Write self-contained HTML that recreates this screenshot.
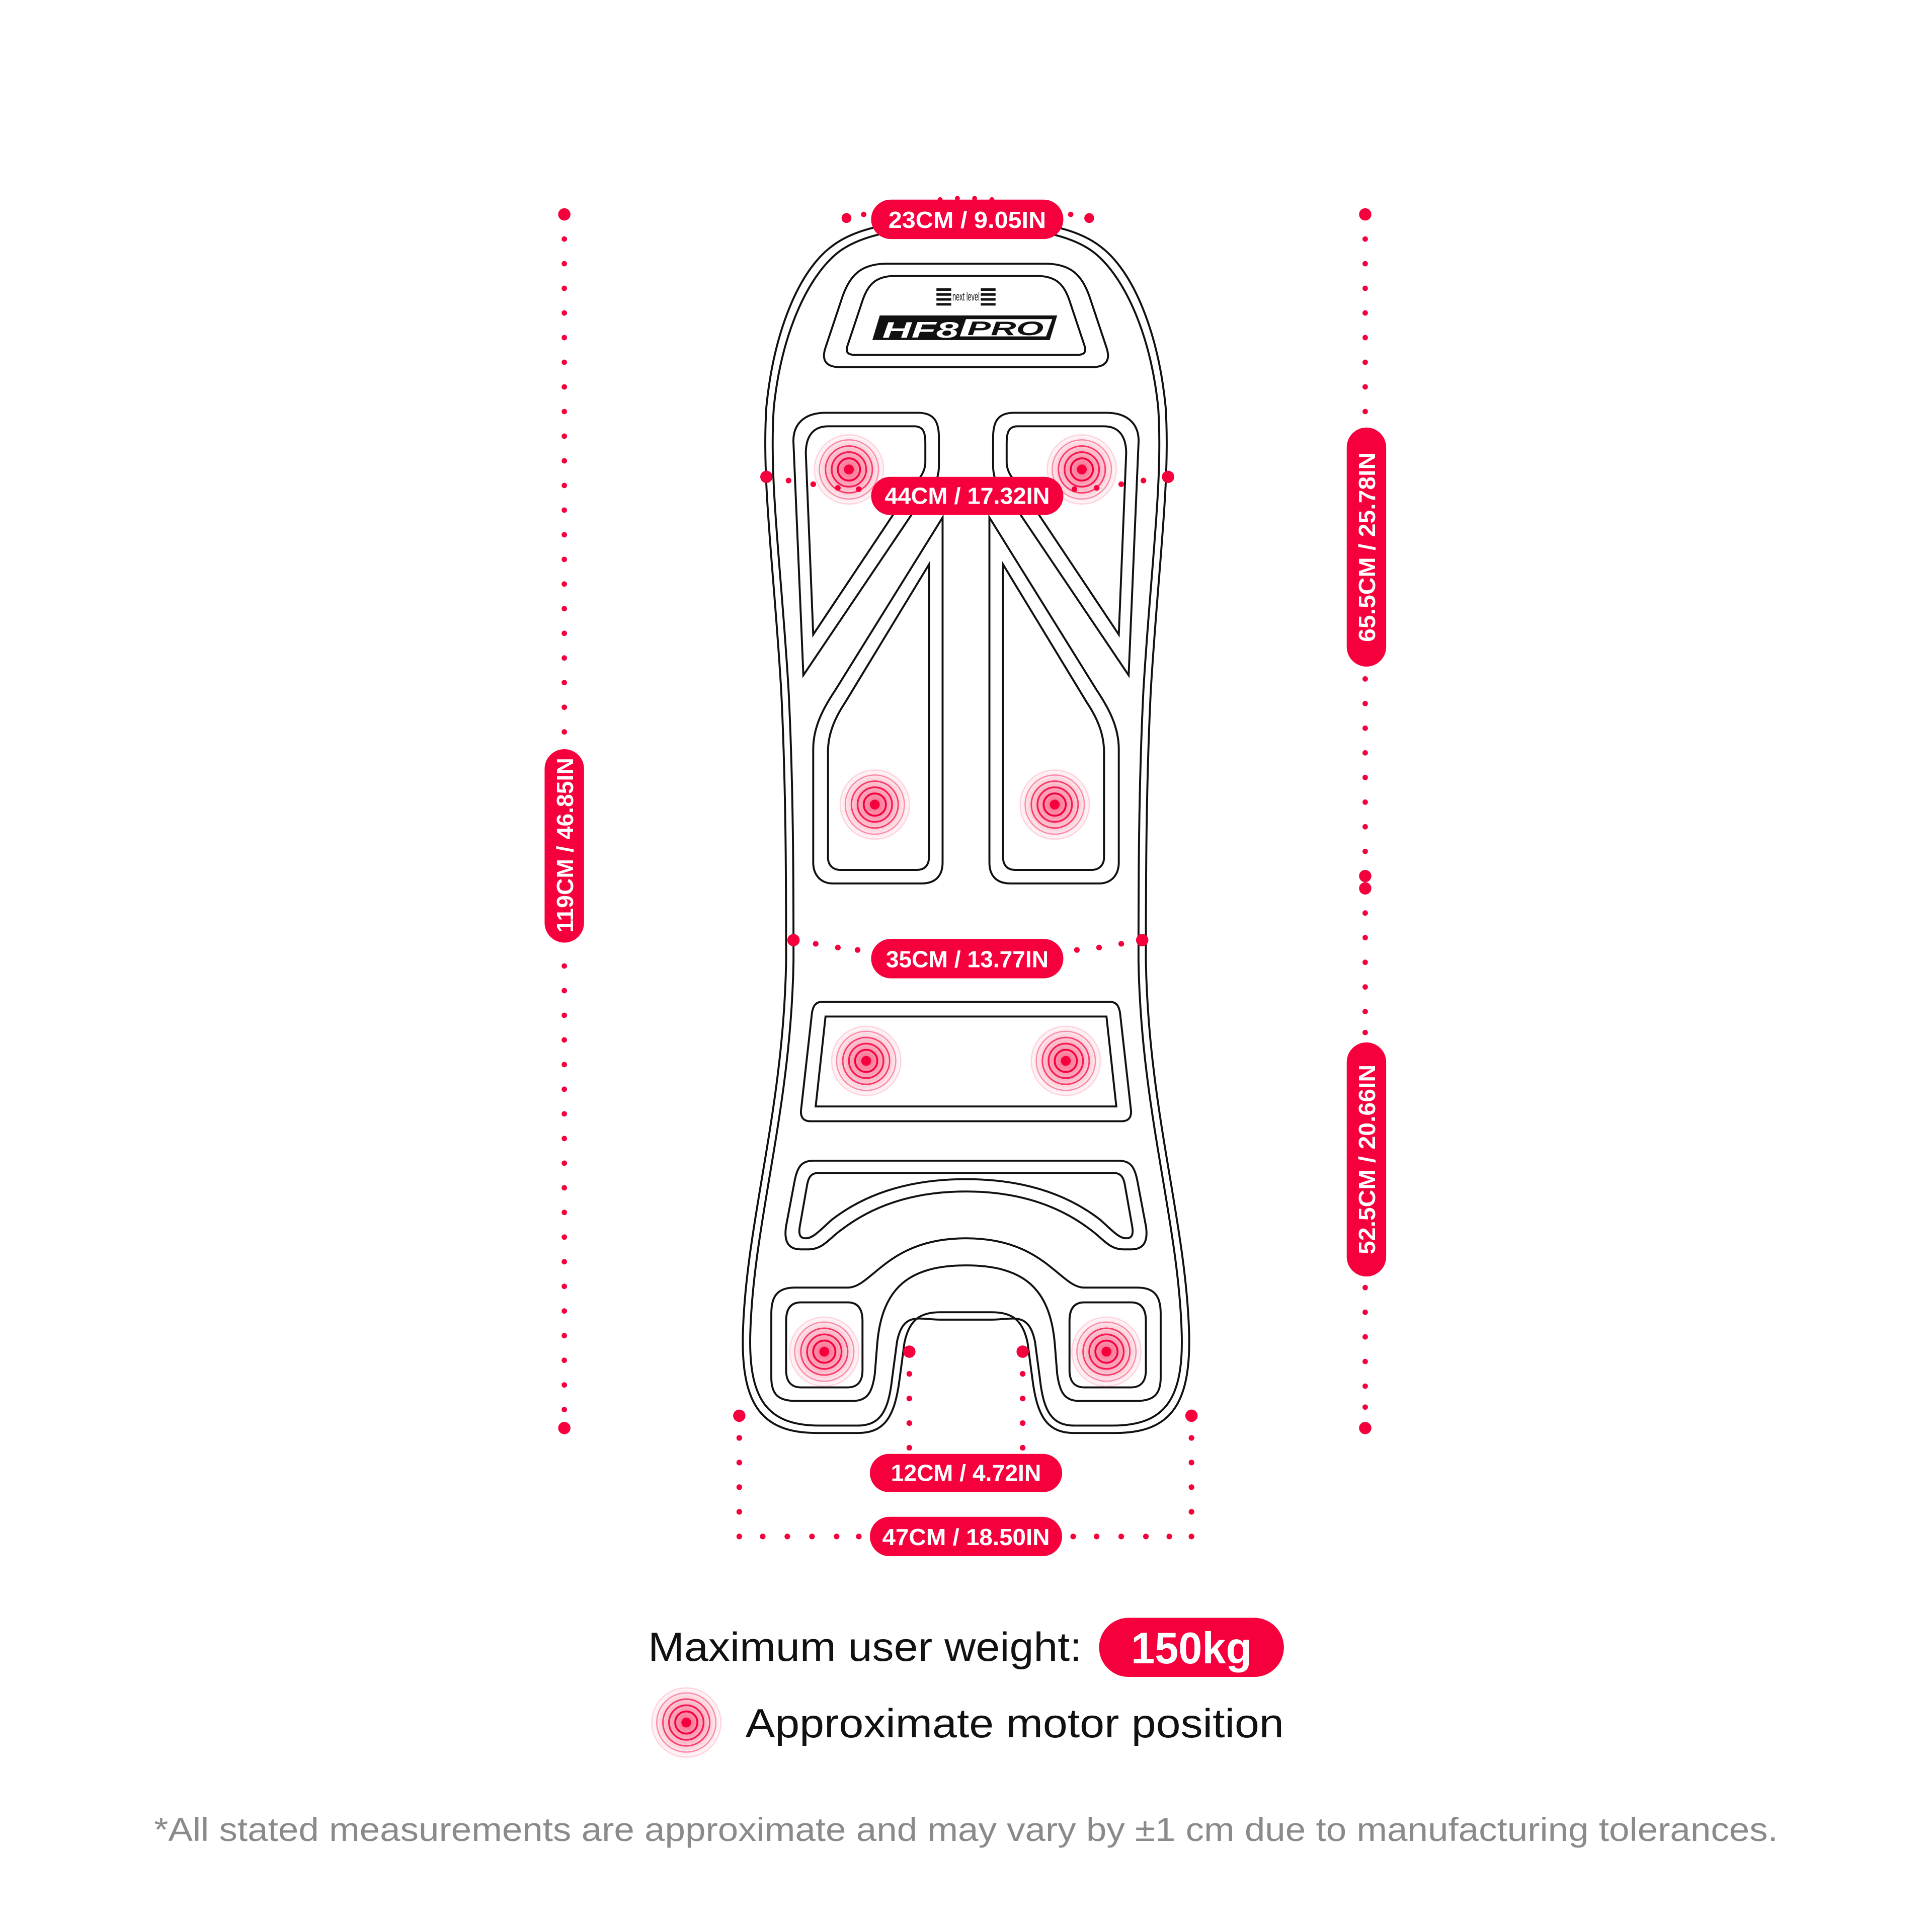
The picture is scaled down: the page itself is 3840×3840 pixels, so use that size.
<!DOCTYPE html>
<html><head><meta charset="utf-8"><style>
html,body{margin:0;padding:0;background:#fff}
svg{display:block}
</style></head><body>
<svg width="3840" height="3840" viewBox="0 0 1568 1568" xmlns="http://www.w3.org/2000/svg">
<defs>
<radialGradient id="mg">
<stop offset="0" stop-color="#f5003c" stop-opacity="1"/>
<stop offset="0.45" stop-color="#f5003c" stop-opacity="0.55"/>
<stop offset="0.8" stop-color="#f5003c" stop-opacity="0.15"/>
<stop offset="1" stop-color="#f5003c" stop-opacity="0"/>
</radialGradient>
<g id="motor">
<circle r="30" fill="url(#mg)" opacity="0.6"/>
<circle r="28" fill="none" stroke="#f5003c" stroke-opacity="0.15" stroke-width="1"/>
<circle r="24" fill="none" stroke="#f5003c" stroke-opacity="0.4" stroke-width="1"/>
<circle r="19" fill="none" stroke="#f5003c" stroke-opacity="0.7" stroke-width="1.2"/>
<circle r="14" fill="none" stroke="#f5003c" stroke-opacity="0.85" stroke-width="1.4"/>
<circle r="9" fill="none" stroke="#f5003c" stroke-width="1.5"/>
<circle r="4" fill="#f5003c"/>
</g>
</defs>
<g fill="none" stroke="#111" stroke-width="1.6">
<!-- body outer -->
<path d="M784 178 C830 178 870 182 893 200 C920 220 940 270 946 330 C950 390 940 460 934 560 C930 640 930 720 930 780 C932 900 962 990 965 1080 C967 1140 950 1163 905 1163 L872 1163 C850 1163 842 1150 838 1120 L834 1090 C830 1070 820 1065 805 1065 L763 1065 C748 1065 738 1070 734 1090 L730 1120 C726 1150 718 1163 696 1163 L663 1163 C618 1163 601 1140 603 1080 C606 990 636 900 638 780 C638 720 638 640 634 560 C628 460 618 390 622 330 C628 270 648 220 675 200 C698 182 738 178 784 178 Z"/>
<path d="M784 184 C828 184 866 188 888 205 C913 225 934 272 940 331 C944 390 934 460 928 560 C924 640 924 720 924 780 C926 900 956 990 959 1080 C961 1135 946 1157 903 1157 L872 1157 C854 1157 847 1146 844 1119 L840 1089 C835 1064 822 1071 805 1071 L763 1071 C746 1071 733 1064 728 1089 L724 1119 C721 1146 714 1157 696 1157 L665 1157 C622 1157 607 1135 609 1080 C612 990 642 900 644 780 C644 720 644 640 640 560 C634 460 624 390 628 331 C634 272 655 225 680 205 C702 188 740 184 784 184 Z"/>
<!-- logo panel -->
<path d="M720 214 L848 214 C870 214 878 224 884 240 L898 282 C902 294 896 298 886 298 L682 298 C672 298 666 294 670 282 L684 240 C690 224 698 214 720 214 Z"/>
<path d="M726 224 L842 224 C858 224 864 232 868 244 L880 280 C882 286 880 288 874 288 L694 288 C688 288 686 286 688 280 L700 244 C704 232 710 224 726 224 Z"/>
<!-- top pockets left -->
<path d="M670 335 L745 335 C758 335 762 342 762 355 L762 378 C762 392 755 400 745 410 L652 548 L644 360 C643 345 652 335 670 335 Z"/>
<path d="M672 346 L742 346 C750 346 751 352 751 360 L751 375 C751 384 745 390 738 398 L660 515 L654 368 C654 354 660 346 672 346 Z"/>
<!-- top pockets right -->
<path d="M898 335 L823 335 C810 335 806 342 806 355 L806 378 C806 392 813 400 823 410 L916 548 L924 360 C925 345 916 335 898 335 Z"/>
<path d="M896 346 L826 346 C818 346 817 352 817 360 L817 375 C817 384 823 390 830 398 L908 515 L914 368 C914 354 908 346 896 346 Z"/>
<!-- mid pockets -->
<path d="M765 420 L765 700 C765 712 758 717 748 717 L676 717 C666 717 660 710 660 700 L660 608 C660 590 668 575 678 560 Z"/>
<path d="M754 458 L754 695 C754 703 750 706 744 706 L682 706 C676 706 672 702 672 696 L672 610 C672 595 678 582 686 570 Z"/>
<path d="M803 420 L803 700 C803 712 810 717 820 717 L892 717 C902 717 908 710 908 700 L908 608 C908 590 900 575 890 560 Z"/>
<path d="M814 458 L814 695 C814 703 818 706 824 706 L886 706 C892 706 896 702 896 696 L896 610 C896 595 890 582 882 570 Z"/>
<!-- middle trapezoid -->
<path d="M668 813 L900 813 C906 813 908 816 909 822 L918 902 C918 908 915 910 910 910 L658 910 C653 910 650 908 650 902 L659 822 C660 816 662 813 668 813 Z"/>
<path d="M670 825 L898 825 L906 898 L662 898 Z"/>
<!-- arch pocket -->
<path d="M660 942 L908 942 C918 942 921 948 923 958 L930 995 C932 1008 928 1014 918 1014 L912 1014 C900 1014 895 1005 885 998 C855 975 820 967 784 967 C748 967 713 975 683 998 C673 1005 668 1014 656 1014 L650 1014 C640 1014 636 1008 638 995 L645 958 C647 948 650 942 660 942 Z"/>
<path d="M664 952 L904 952 C910 952 912 956 913 962 L919 996 C920 1003 918 1005 914 1005 C908 1005 902 998 893 990 C862 966 824 957 784 957 C744 957 706 966 675 990 C666 998 660 1005 654 1005 C650 1005 648 1003 649 996 L655 962 C656 956 658 952 664 952 Z"/>
<!-- U loop -->
<path d="M645 1045 L688 1045 C708 1045 720 1005 784 1005 C848 1005 860 1045 880 1045 L923 1045 C937 1045 942 1052 942 1066 L942 1118 C942 1132 936 1137 922 1137 L876 1137 C864 1137 860 1130 858 1115 L856 1090 C852 1045 830 1027 784 1027 C738 1027 716 1045 712 1090 L710 1115 C708 1130 704 1137 692 1137 L646 1137 C632 1137 626 1132 626 1118 L626 1066 C626 1052 631 1045 645 1045 Z"/>
<path d="M650 1057 L688 1057 C696 1057 700 1062 700 1072 L700 1112 C700 1121 696 1126 688 1126 L650 1126 C642 1126 638 1121 638 1112 L638 1072 C638 1062 642 1057 650 1057 Z"/>
<path d="M918 1057 L880 1057 C872 1057 868 1062 868 1072 L868 1112 C868 1121 872 1126 880 1126 L918 1126 C926 1126 930 1121 930 1112 L930 1072 C930 1062 926 1057 918 1057 Z"/>
</g>
<!-- logo -->
<g fill="#111">
<rect x="760" y="234" width="12" height="2"/><rect x="760" y="238" width="12" height="2"/><rect x="760" y="242" width="12" height="2"/><rect x="760" y="246" width="12" height="2"/>
<rect x="796" y="234" width="12" height="2"/><rect x="796" y="238" width="12" height="2"/><rect x="796" y="242" width="12" height="2"/><rect x="796" y="246" width="12" height="2"/>
<text x="784" y="244" font-family="Liberation Sans Narrow, Liberation Sans, sans-serif" font-size="10" text-anchor="middle" textLength="22" lengthAdjust="spacingAndGlyphs">next level</text>
<polygon points="714,256 858,256 852,276 708,276"/>
</g>
<text x="747" y="274" font-family="Liberation Sans, sans-serif" font-weight="bold" font-style="italic" font-size="18" fill="#fff" text-anchor="middle" textLength="62" lengthAdjust="spacingAndGlyphs">HF8</text>
<polygon points="784,259 854,259 849,273 779,273" fill="#fff"/>
<text x="816" y="272" font-family="Liberation Sans, sans-serif" font-weight="bold" font-style="italic" font-size="16" fill="#111" text-anchor="middle" textLength="62" lengthAdjust="spacingAndGlyphs">PRO</text>
<!-- motors -->
<use href="#motor" x="689" y="381"/><use href="#motor" x="878" y="381"/>
<use href="#motor" x="710" y="653"/><use href="#motor" x="856" y="653"/>
<use href="#motor" x="703" y="861"/><use href="#motor" x="865" y="861"/>
<use href="#motor" x="669" y="1097"/><use href="#motor" x="898" y="1097"/>
<use href="#motor" x="557" y="1398"/>
<!-- dimension dots -->
<g fill="#f5003c">
<!-- left vertical -->
<circle cx="458" cy="174" r="5"/><circle cx="458" cy="1159" r="5"/>
<g id="lv">
<circle cx="458" cy="194" r="2.2"/><circle cx="458" cy="214" r="2.2"/><circle cx="458" cy="234" r="2.2"/><circle cx="458" cy="254" r="2.2"/><circle cx="458" cy="274" r="2.2"/><circle cx="458" cy="294" r="2.2"/><circle cx="458" cy="314" r="2.2"/><circle cx="458" cy="334" r="2.2"/><circle cx="458" cy="354" r="2.2"/><circle cx="458" cy="374" r="2.2"/><circle cx="458" cy="394" r="2.2"/><circle cx="458" cy="414" r="2.2"/><circle cx="458" cy="434" r="2.2"/><circle cx="458" cy="454" r="2.2"/><circle cx="458" cy="474" r="2.2"/><circle cx="458" cy="494" r="2.2"/><circle cx="458" cy="514" r="2.2"/><circle cx="458" cy="534" r="2.2"/><circle cx="458" cy="554" r="2.2"/><circle cx="458" cy="574" r="2.2"/><circle cx="458" cy="594" r="2.2"/>
<circle cx="458" cy="784" r="2.2"/><circle cx="458" cy="804" r="2.2"/><circle cx="458" cy="824" r="2.2"/><circle cx="458" cy="844" r="2.2"/><circle cx="458" cy="864" r="2.2"/><circle cx="458" cy="884" r="2.2"/><circle cx="458" cy="904" r="2.2"/><circle cx="458" cy="924" r="2.2"/><circle cx="458" cy="944" r="2.2"/><circle cx="458" cy="964" r="2.2"/><circle cx="458" cy="984" r="2.2"/><circle cx="458" cy="1004" r="2.2"/><circle cx="458" cy="1024" r="2.2"/><circle cx="458" cy="1044" r="2.2"/><circle cx="458" cy="1064" r="2.2"/><circle cx="458" cy="1084" r="2.2"/><circle cx="458" cy="1104" r="2.2"/><circle cx="458" cy="1124" r="2.2"/><circle cx="458" cy="1144" r="2.2"/>
</g>
<!-- right vertical -->
<circle cx="1108" cy="174" r="5"/><circle cx="1108" cy="1159" r="5"/><circle cx="1108" cy="711" r="5"/><circle cx="1108" cy="721" r="5"/>
<circle cx="1108" cy="194" r="2.2"/><circle cx="1108" cy="214" r="2.2"/><circle cx="1108" cy="234" r="2.2"/><circle cx="1108" cy="254" r="2.2"/><circle cx="1108" cy="274" r="2.2"/><circle cx="1108" cy="294" r="2.2"/><circle cx="1108" cy="314" r="2.2"/><circle cx="1108" cy="334" r="2.2"/>
<circle cx="1108" cy="551" r="2.2"/><circle cx="1108" cy="571" r="2.2"/><circle cx="1108" cy="591" r="2.2"/><circle cx="1108" cy="611" r="2.2"/><circle cx="1108" cy="631" r="2.2"/><circle cx="1108" cy="651" r="2.2"/><circle cx="1108" cy="671" r="2.2"/><circle cx="1108" cy="691" r="2.2"/>
<circle cx="1108" cy="741" r="2.2"/><circle cx="1108" cy="761" r="2.2"/><circle cx="1108" cy="781" r="2.2"/><circle cx="1108" cy="801" r="2.2"/><circle cx="1108" cy="821" r="2.2"/><circle cx="1108" cy="838" r="2.2"/>
<circle cx="1108" cy="1045" r="2.2"/><circle cx="1108" cy="1065" r="2.2"/><circle cx="1108" cy="1085" r="2.2"/><circle cx="1108" cy="1105" r="2.2"/><circle cx="1108" cy="1125" r="2.2"/><circle cx="1108" cy="1142" r="2.2"/>
<!-- top -->
<circle cx="687" cy="177" r="4"/><circle cx="884" cy="177" r="4"/><circle cx="701" cy="174" r="2.2"/><circle cx="869" cy="174" r="2.2"/>
<circle cx="763" cy="162" r="2"/><circle cx="777" cy="161" r="2"/><circle cx="791" cy="161" r="2"/><circle cx="805" cy="162" r="2"/>
<!-- 44 -->
<circle cx="622" cy="387" r="5"/><circle cx="948" cy="387" r="5"/>
<circle cx="640" cy="390" r="2.3"/><circle cx="660" cy="393" r="2.3"/><circle cx="680" cy="396" r="2.3"/><circle cx="697" cy="397" r="2.3"/>
<circle cx="928" cy="390" r="2.3"/><circle cx="910" cy="393" r="2.3"/><circle cx="890" cy="396" r="2.3"/><circle cx="872" cy="397" r="2.3"/>
<!-- 35 -->
<circle cx="644" cy="763" r="5"/><circle cx="927" cy="763" r="5"/>
<circle cx="662" cy="766" r="2.3"/><circle cx="680" cy="769" r="2.3"/><circle cx="696" cy="771" r="2.3"/>
<circle cx="874" cy="771" r="2.3"/><circle cx="892" cy="769" r="2.3"/><circle cx="910" cy="766" r="2.3"/>
<!-- 12 -->
<circle cx="738" cy="1097" r="5"/><circle cx="830" cy="1097" r="5"/>
<circle cx="738" cy="1115" r="2.3"/><circle cx="738" cy="1135" r="2.3"/><circle cx="738" cy="1155" r="2.3"/><circle cx="738" cy="1175" r="2.3"/>
<circle cx="830" cy="1115" r="2.3"/><circle cx="830" cy="1135" r="2.3"/><circle cx="830" cy="1155" r="2.3"/><circle cx="830" cy="1175" r="2.3"/>
<!-- 47 -->
<circle cx="600" cy="1149" r="5"/><circle cx="967" cy="1149" r="5"/>
<circle cx="600" cy="1167" r="2.3"/><circle cx="600" cy="1187" r="2.3"/><circle cx="600" cy="1207" r="2.3"/><circle cx="600" cy="1227" r="2.3"/><circle cx="600" cy="1247" r="2.3"/>
<circle cx="967" cy="1167" r="2.3"/><circle cx="967" cy="1187" r="2.3"/><circle cx="967" cy="1207" r="2.3"/><circle cx="967" cy="1227" r="2.3"/><circle cx="967" cy="1247" r="2.3"/>
<circle cx="619" cy="1247" r="2.3"/><circle cx="639" cy="1247" r="2.3"/><circle cx="659" cy="1247" r="2.3"/><circle cx="679" cy="1247" r="2.3"/><circle cx="697" cy="1247" r="2.3"/>
<circle cx="871" cy="1247" r="2.3"/><circle cx="890" cy="1247" r="2.3"/><circle cx="910" cy="1247" r="2.3"/><circle cx="930" cy="1247" r="2.3"/><circle cx="949" cy="1247" r="2.3"/>
<!-- pills -->
<rect x="707" y="162" width="156" height="32" rx="16"/>
<rect x="707" y="387" width="156" height="31" rx="15.5"/>
<rect x="707" y="762" width="156" height="32" rx="16"/>
<rect x="706" y="1180" width="156" height="31" rx="15.5"/>
<rect x="706" y="1231" width="156" height="32" rx="16"/>
<rect x="442" y="608" width="32" height="157" rx="16"/>
<rect x="1093" y="347" width="32" height="194" rx="16"/>
<rect x="1093" y="846" width="32" height="190" rx="16"/>
<rect x="892" y="1313" width="150" height="48" rx="24"/>
</g>
<g font-family="Liberation Sans, sans-serif" font-weight="bold" fill="#fff" font-size="19" text-anchor="middle">
<text x="785" y="185" textLength="128" lengthAdjust="spacingAndGlyphs">23CM / 9.05IN</text>
<text x="785" y="409" textLength="134" lengthAdjust="spacingAndGlyphs">44CM / 17.32IN</text>
<text x="785" y="785" textLength="132" lengthAdjust="spacingAndGlyphs">35CM / 13.77IN</text>
<text x="784" y="1202" textLength="122" lengthAdjust="spacingAndGlyphs">12CM / 4.72IN</text>
<text x="784" y="1254" textLength="136" lengthAdjust="spacingAndGlyphs">47CM / 18.50IN</text>
<text transform="translate(465,686) rotate(-90)" textLength="142" lengthAdjust="spacingAndGlyphs">119CM / 46.85IN</text>
<text transform="translate(1116,444) rotate(-90)" textLength="154" lengthAdjust="spacingAndGlyphs">65.5CM / 25.78IN</text>
<text transform="translate(1116,941) rotate(-90)" textLength="154" lengthAdjust="spacingAndGlyphs">52.5CM / 20.66IN</text>
<text x="967" y="1350" font-size="36" textLength="98" lengthAdjust="spacingAndGlyphs">150kg</text>
</g>
<g font-family="Liberation Sans, sans-serif">
<text x="526" y="1348" font-size="33" fill="#111" textLength="352" lengthAdjust="spacingAndGlyphs">Maximum user weight:</text>
<text x="605" y="1410" font-size="33" fill="#111" textLength="437" lengthAdjust="spacingAndGlyphs">Approximate motor position</text>
<text x="125" y="1494" font-size="27" fill="#8a8a8a" textLength="1318" lengthAdjust="spacingAndGlyphs">*All stated measurements are approximate and may vary by ±1 cm due to manufacturing tolerances.</text>
</g>
</svg>
</body></html>
